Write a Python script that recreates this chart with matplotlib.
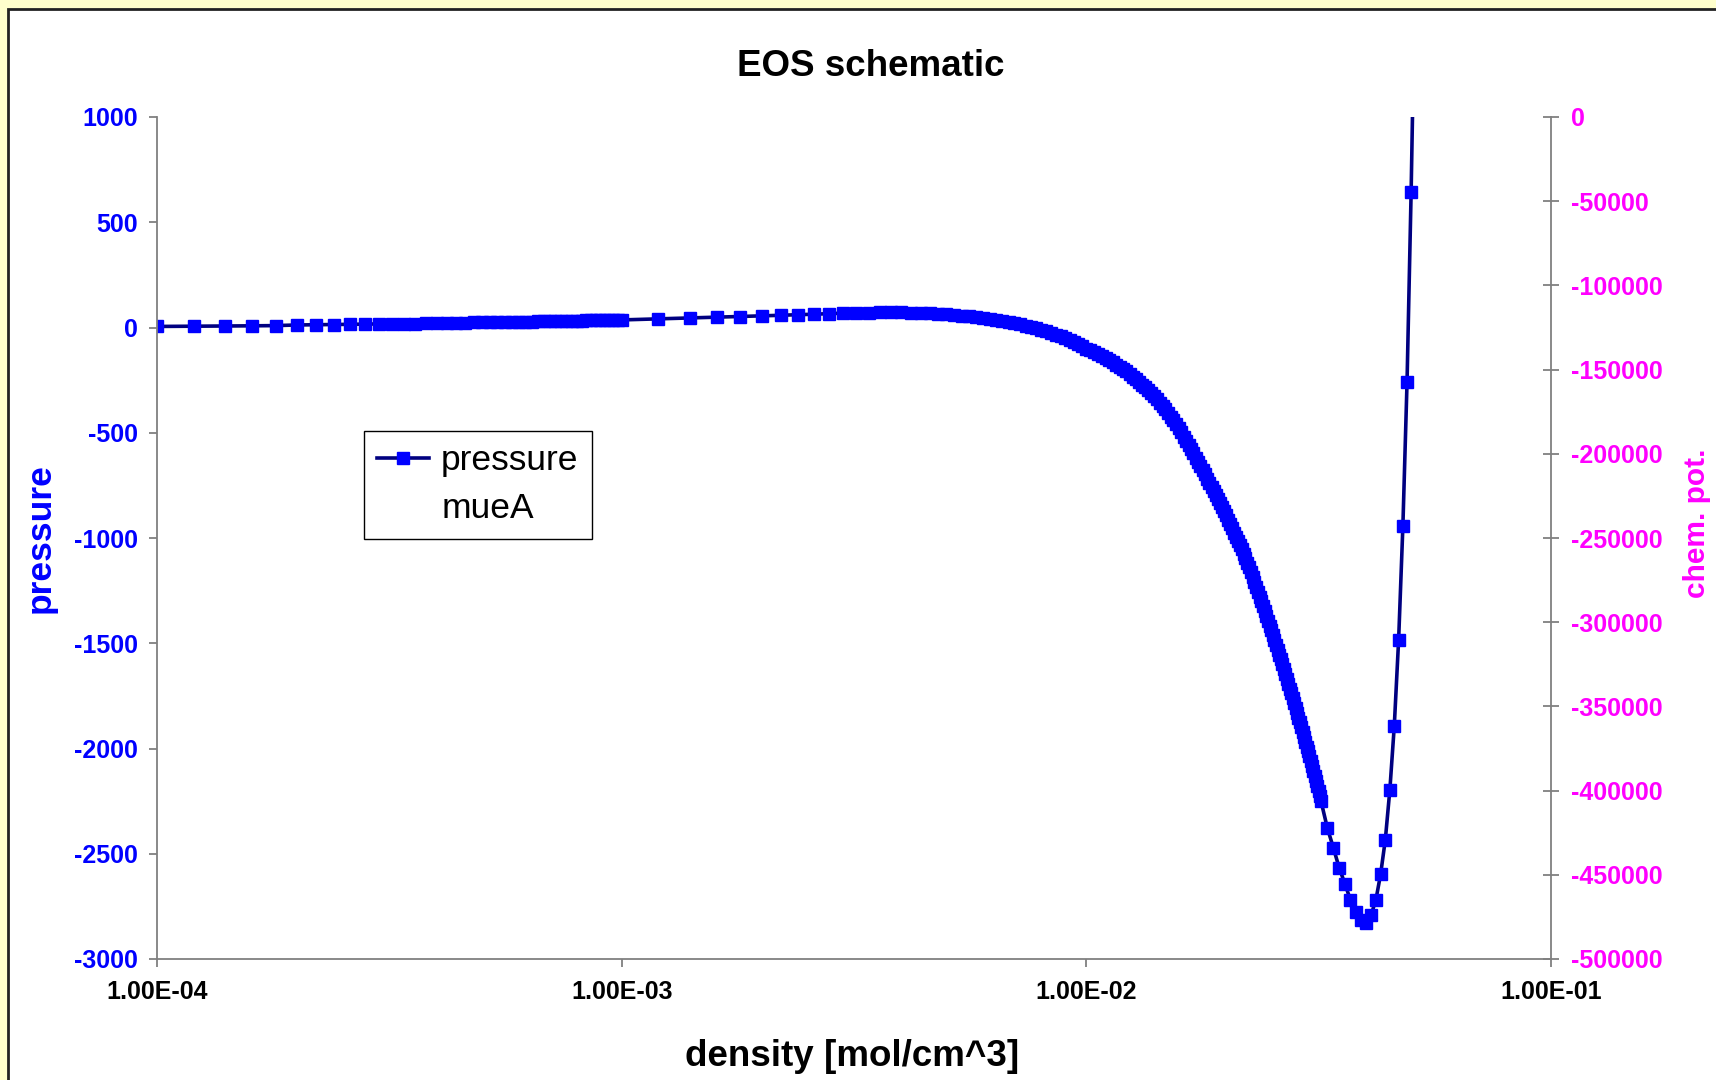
import numpy as np
import matplotlib.pyplot as plt
from matplotlib.patches import Rectangle
from matplotlib.ticker import NullLocator

plt.rcParams['font.family'] = ['Liberation Sans', 'DejaVu Sans']
plt.rcParams['axes.unicode_minus'] = False

# density grid (three sampling regions)
density_low_e4 = [1.0, 1.2, 1.4, 1.6, 1.8, 2.0, 2.2, 2.4, 2.6, 2.8,
                  3.0, 3.2, 3.4, 3.6, 3.8, 4.0, 4.2, 4.4, 4.6, 4.8,
                  5.0, 5.2, 5.4, 5.6, 5.8, 6.0, 6.2, 6.4, 6.6, 6.8,
                  7.0, 7.2, 7.4, 7.6, 7.8, 8.0, 8.2, 8.4, 8.6, 8.8,
                  9.0, 9.2, 9.4, 9.6, 9.8]
pressure_low = [5, 6, 7, 8, 9, 12, 13, 14, 15, 16,
                17, 17, 18, 19, 20, 20, 21, 22, 23, 24,
                25, 25, 26, 26, 27, 27, 28, 28, 29, 29,
                30, 30, 31, 32, 32, 33, 33, 34, 34, 35,
                35, 35, 36, 36, 36]

density_mid_e3 = [1.0, 1.2, 1.4, 1.6, 1.8, 2.0, 2.2, 2.4, 2.6, 2.8,
                  3.0, 3.2, 3.4, 3.6, 3.8, 4.0, 4.2, 4.4, 4.6, 4.8,
                  5.0, 5.2, 5.4, 5.6, 5.8, 6.0, 6.2, 6.4, 6.6, 6.8,
                  7.0, 7.2, 7.4, 7.6, 7.8, 8.0, 8.2, 8.4, 8.6, 8.8,
                  9.0, 9.2, 9.4, 9.6, 9.8]
pressure_mid = [36, 41, 45, 49, 52, 55, 58, 61, 63, 66,
                68, 70, 71, 72, 72, 72, 71, 70, 68, 66,
                63, 60, 57, 54, 50, 46, 42, 37, 32, 27,
                21, 15, 9, 3, -4, -11, -18, -26, -34, -42,
                -51, -60, -69, -79, -89]

density_high_e3 = [10.0, 10.2, 10.4, 10.6, 10.8, 11.0, 11.2, 11.4, 11.6, 11.8,
                   12.0, 12.2, 12.4, 12.6, 12.8, 13.0, 13.2, 13.4, 13.6, 13.8,
                   14.0, 14.2, 14.4, 14.6, 14.8, 15.0, 15.2, 15.4, 15.6, 15.8,
                   16.0, 16.2, 16.4, 16.6, 16.8, 17.0, 17.2, 17.4, 17.6, 17.8,
                   18.0, 18.2, 18.4, 18.6, 18.8, 19.0, 19.2, 19.4, 19.6, 19.8,
                   20.0, 20.2, 20.4, 20.6, 20.8, 21.0, 21.2, 21.4, 21.6, 21.8,
                   22.0, 22.2, 22.4, 22.6, 22.8, 23.0, 23.2, 23.4, 23.6, 23.8,
                   24.0, 24.2, 24.4, 24.6, 24.8, 25.0, 25.2, 25.4, 25.6, 25.8,
                   26.0, 26.2, 26.4, 26.6, 26.8, 27.0, 27.2, 27.4, 27.6, 27.8,
                   28.0, 28.2, 28.4, 28.6, 28.8, 29.0, 29.2, 29.4, 29.6, 29.8,
                   30.0, 30.2, 30.4, 30.6, 30.8, 31.0, 31.2, 31.4, 31.6, 31.8,
                   32.0]
pressure_high = [-100, -108, -117, -126, -135, -145, -155, -165, -176, -187,
                 -198, -209, -221, -233, -245, -258, -271, -284, -298, -312,
                 -327, -342, -357, -373, -389, -406, -423, -441, -460, -479,
                 -498, -518, -538, -558, -578, -598, -618, -638, -658, -678,
                 -698, -718, -738, -758, -778, -797, -816, -835, -854, -873,
                 -893, -913, -934, -954, -974, -994, -1014, -1034, -1054, -1074,
                 -1096, -1118, -1140, -1163, -1186, -1209, -1232, -1255, -1278, -1301,
                 -1324, -1347, -1370, -1393, -1416, -1439, -1462, -1485, -1508, -1531,
                 -1554, -1577, -1600, -1623, -1646, -1669, -1692, -1715, -1738, -1761,
                 -1784, -1807, -1830, -1853, -1876, -1899, -1922, -1945, -1968, -1991,
                 -2014, -2037, -2060, -2083, -2107, -2131, -2155, -2179, -2203, -2227,
                 -2251]

density_top_e3 = [33, 34, 35, 36, 37, 38, 39, 40, 41, 42,
                  43, 44, 45, 46, 47, 48, 49, 50, 51]
pressure_top = [-2376, -2471, -2566, -2642, -2718, -2775, -2815, -2830, -2791, -2718,
                -2595, -2433, -2196, -1892, -1483, -943, -259, 643, 1700]

# second series (chem. pot.) has no visible points in the chart
mue_a = []

density = np.concatenate([np.array(density_low_e4) * 1e-4,
                          np.array(density_mid_e3) * 1e-3,
                          np.array(density_high_e3) * 1e-3,
                          np.array(density_top_e3) * 1e-3])
pressure = np.array(pressure_low + pressure_mid + pressure_high + pressure_top)

W, H = 1716, 1080
fig = plt.figure(figsize=(W / 100, H / 100), dpi=100, facecolor='#FFFFCC')
fig.patches.append(Rectangle((8 / W, -0.01), 1.1, 1 - 9 / H + 0.01, transform=fig.transFigure,
                             facecolor='white', edgecolor='#222222', lw=2, zorder=-5))

ax = fig.add_axes([157 / W, 1 - 959 / H, (1551 - 157) / W, (959 - 117) / H])
ax.set_facecolor('none')
ax.plot(density, pressure, color='#000080', lw=2.6, marker='s', ms=8.5,
        mfc='#0000FF', mec='#0000FF', label='pressure')
ax.set_xscale('log')
ax.set_xlim(1e-4, 1e-1)
ax.set_ylim(-3000, 1000)
ax.set_xticks([1e-4, 1e-3, 1e-2, 1e-1])
ax.set_xticklabels(['1.00E-04', '1.00E-03', '1.00E-02', '1.00E-01'])
ax.xaxis.set_minor_locator(NullLocator())
ax.set_yticks(np.arange(-3000, 1001, 500))

ax2 = ax.twinx()
ax2.set_facecolor('none')
ax2.plot(mue_a, mue_a, ls='none', label='mueA')
ax2.set_ylim(-500000, 0)
ax2.set_yticks(np.arange(-500000, 1, 50000))

grey = '#808080'
for s in ['top', 'right']:
    ax.spines[s].set_visible(False)
for s in ['top', 'left', 'bottom']:
    ax2.spines[s].set_visible(False)
for s in ['left', 'bottom']:
    ax.spines[s].set_color(grey)
    ax.spines[s].set_linewidth(1.3)
ax2.spines['right'].set_color(grey)
ax2.spines['right'].set_linewidth(1.3)

ax.tick_params(axis='x', direction='out', length=6, width=1.3, color=grey,
               labelsize=18, labelcolor='black', pad=9)
ax.tick_params(axis='y', direction='out', length=6, width=1.3, color=grey,
               labelsize=18, labelcolor='#0000FF', pad=8)
ax2.tick_params(axis='y', direction='inout', length=11.5, width=1.3, color=grey,
                labelsize=18, labelcolor='#FF00FF', pad=9)
for lab in ax.get_xticklabels() + ax.get_yticklabels() + ax2.get_yticklabels():
    lab.set_fontweight('bold')

fig.text(871 / W, 1 - 66 / H, 'EOS schematic', ha='center', va='center',
         fontsize=26.5, fontweight='bold')
fig.text(852 / W, 1 - 1056 / H, 'density [mol/cm^3]', ha='center', va='center',
         fontsize=26.5, fontweight='bold')
fig.text(40 / W, 1 - 538 / H, 'pressure', ha='center', va='center', rotation=90,
         fontsize=25.5, fontweight='bold', color='#0000FF')
fig.text(1697 / W, 1 - 523 / H, 'chem. pot.', ha='center', va='center', rotation=90,
         fontsize=21.5, fontweight='bold', color='#FF00FF')

h1, l1 = ax.get_legend_handles_labels()
h2, l2 = ax2.get_legend_handles_labels()
leg = ax2.legend(h1 + h2, l1 + l2, loc='upper left', bbox_to_anchor=(364 / W, 1 - 431 / H),
                 bbox_transform=fig.transFigure, fancybox=False, framealpha=1,
                 edgecolor='black', prop={'size': 25.5}, borderaxespad=0,
                 handlelength=1.45, handletextpad=0.35, labelspacing=0.42, borderpad=0.38)
leg.get_frame().set_linewidth(1.0)

fig.savefig('out.png', dpi=100, facecolor=fig.get_facecolor())
